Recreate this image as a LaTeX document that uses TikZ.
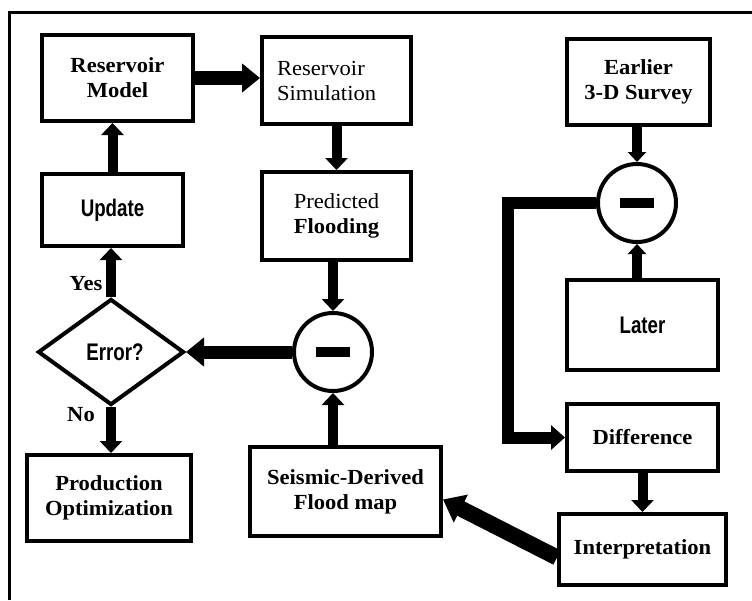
\documentclass[tikz,border=0pt]{standalone}
\usepackage{fontspec}
\setmainfont{Liberation Serif}[FakeStretch=1.05]
\newfontfamily\narrowsans{Liberation Sans}[FakeStretch=0.78]
\usetikzlibrary{arrows.meta,shapes.geometric,calc}

\tikzset{
  box/.style={draw, line width=4pt, rectangle, inner sep=0pt, align=center,
    font=\fontsize{21.5}{25}\selectfont\bfseries},
  plainbox/.style={box, font=\fontsize{21.5}{25}\selectfont},
  sansbox/.style={box, font=\fontsize{24}{28}\selectfont\narrowsans\bfseries},
  subtract/.style={draw, line width=4pt, circle, minimum size=78pt, inner sep=0pt},
  decision/.style={draw, line width=4pt, diamond, inner sep=0pt,
    minimum width=146pt, minimum height=106pt,
    font=\fontsize{24}{28}\selectfont\narrowsans\bfseries},
  flow/.style={line width=10pt, line join=miter, -{Triangle[width=22pt,length=12pt]}},
  bigflow/.style={line width=14pt, line join=miter, -{Triangle[width=28pt,length=18pt]}},
  answer/.style={anchor=base, font=\fontsize{21.5}{25}\selectfont\bfseries, inner sep=0pt},
}

\begin{document}
\begin{tikzpicture}[x=1pt, y=-1pt]
\useasboundingbox (0,0) rectangle (752,600);
\fill[white] (0,0) rectangle (752,600);

% frame
\draw[line width=3pt] (9,600) -- (9,12) -- (752,12);

% left loop
\node[box, minimum width=151pt, minimum height=86pt] (model) at (117.5,78) {Reservoir\\Model};
\node[plainbox, minimum width=149pt, minimum height=87pt, text width=119pt, align=left] (sim) at (336.5,80.5) {Reservoir\\Simulation};
\node[sansbox, minimum width=141pt, minimum height=72pt] (update) at (112.5,210) {Update};
\node[plainbox, minimum width=149pt, minimum height=88pt] (pred) at (336.5,216) {Predicted\\\textbf{Flooding}};
\node[decision] (dia) at (111,352) {\hspace*{8pt}Error?};
\node[subtract] (cL) at (333,352) {};
\node[box, minimum width=164pt, minimum height=86pt] (prod) at (109,498) {Production\\Optimization};
\node[box, minimum width=191pt, minimum height=89pt] (seis) at (345.5,491.5) {Seismic-Derived\\Flood map};

% right branch
\node[box, minimum width=143pt, minimum height=86pt] (early) at (638.5,82) {Earlier\\3-D Survey};
\node[subtract] (cR) at (637,203) {};
\node[sansbox, minimum width=151pt, minimum height=90pt] (later) at (642.5,325) {Later};
\node[box, minimum width=151pt, minimum height=67pt] (diff) at (642.5,437.5) {Difference};
\node[box, minimum width=167pt, minimum height=71pt] (interp) at (642.5,549.5) {Interpretation};

% minus signs
\fill (cL) +(-17,-5) rectangle +(17,5);
\fill (cR) +(-17,-5) rectangle +(17,5);

% connectors
\draw[bigflow] (model.east) -- (sim.west |- model.east);
\draw[flow] (sim.south) -- (pred.north);
\draw[flow] (pred.south -| cL) -- (cL.north);
\draw[bigflow, line width=13pt] (cL.west) -- (dia.east);
\draw[flow] (seis.north -| cL) -- (cL.south);
\draw[flow] (dia.north) -- (dia.north |- update.south);
\draw[flow] (update.north) -- (update.north |- model.south);
\draw[flow] (dia.south) -- (dia.south |- prod.north);
\draw[flow, -{Triangle[width=18pt,length=10pt]}] (early.south -| cR) -- (cR.north);
\draw[flow, -{Triangle[width=18pt,length=10pt]}] (later.north -| cR) -- (cR.south);
\draw[flow, line width=12pt, -{Triangle[width=24pt,length=14pt]}] (cR.west) -- (508,203) |- (diff.west);
\draw[flow] (diff.south) -- (interp.north);
\draw[bigflow, line width=16pt, -{Triangle[width=30pt,length=20pt]}] ($(interp.west)+(0,8)$) -- ($(seis.east)+(0,8)$);

% decision labels
\node[answer] (yes) at (86,290) {Yes};
\node[answer] (no) at (81,421) {No};
\end{tikzpicture}
\end{document}
